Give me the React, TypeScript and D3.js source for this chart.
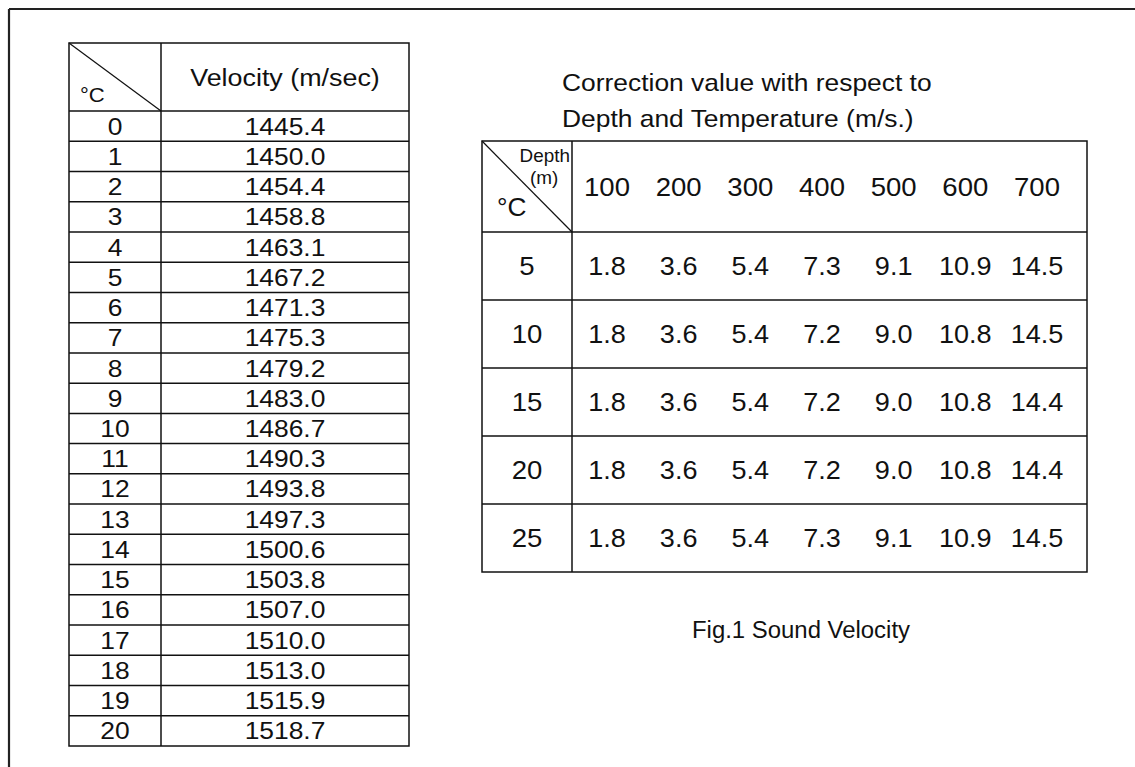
import React from "react";
import * as d3 from "d3";

const temps: number[] = [0, 1, 2, 3, 4, 5, 6, 7, 8, 9, 10, 11, 12, 13, 14, 15, 16, 17, 18, 19, 20];
const velocities: string[] = [
  "1445.4", "1450.0", "1454.4", "1458.8", "1463.1", "1467.2", "1471.3", "1475.3", "1479.2", "1483.0",
  "1486.7", "1490.3", "1493.8", "1497.3", "1500.6", "1503.8", "1507.0", "1510.0", "1513.0", "1515.9", "1518.7",
];
const depths: number[] = [100, 200, 300, 400, 500, 600, 700];
const corrTemps: number[] = [5, 10, 15, 20, 25];
const corr5: string[] = ["1.8", "3.6", "5.4", "7.3", "9.1", "10.9", "14.5"];
const corr10: string[] = ["1.8", "3.6", "5.4", "7.2", "9.0", "10.8", "14.5"];
const corr15: string[] = ["1.8", "3.6", "5.4", "7.2", "9.0", "10.8", "14.4"];
const corr20: string[] = ["1.8", "3.6", "5.4", "7.2", "9.0", "10.8", "14.4"];
const corr25: string[] = ["1.8", "3.6", "5.4", "7.3", "9.1", "10.9", "14.5"];
const corrRows: string[][] = [corr5, corr10, corr15, corr20, corr25];
const titleLines: string[] = ["Correction value with respect to", "Depth and Temperature (m/s.)"];
const caption = "Fig.1 Sound Velocity";

const FONT = "'Liberation Sans', Arial, Helvetica, sans-serif";
const INK = "#111";

function T(props: {
  x: number; y: number; size: number; sx?: number; anchor?: string; children: React.ReactNode;
}) {
  const { x, y, size, sx = 1.08, anchor = "middle", children } = props;
  return (
    <text
      transform={`translate(${x},${y}) scale(${sx},1)`}
      fontSize={size}
      fontFamily={FONT}
      textAnchor={anchor}
      fill={INK}
    >
      {children}
    </text>
  );
}

export default function App() {
  const W = 1135, H = 767;

  // Left table geometry
  const L = { x0: 69, x1: 161, x2: 409, top: 43, head: 111, bottom: 746 };
  const rowY = d3.scaleBand<number>().domain(temps).range([L.head, L.bottom]);
  const lfs = 24;

  // Right table geometry
  const R = { x0: 482, x1: 572, x2: 1087, top: 141, head: 232, bottom: 572 };
  const rRowY = d3.scaleBand<number>().domain(corrTemps).range([R.head, R.bottom]);
  const colX = d3.scalePoint<number>().domain(depths).range([607, 1037]);
  const rfs = 26;

  const sw = 1.5;

  return (
    <svg
      width={W}
      height={H}
      style={{ position: "absolute", left: 0, top: 0, background: "#fff" }}
    >
      <rect x={0} y={0} width={W} height={H} fill="#fff" />
      {/* outer frame */}
      <line x1={9} y1={9} x2={W} y2={9} stroke="#222" strokeWidth={2.2} />
      <line x1={9} y1={9} x2={9} y2={H} stroke="#222" strokeWidth={2.2} />

      {/* Left table */}
      <g stroke={INK} strokeWidth={sw} fill="none">
        <rect x={L.x0} y={L.top} width={L.x2 - L.x0} height={L.bottom - L.top} />
        <line x1={L.x1} y1={L.top} x2={L.x1} y2={L.bottom} />
        <line x1={L.x0} y1={L.top} x2={L.x1} y2={L.head} strokeWidth={1.2} />
        {temps.map((t) => (
          <line key={t} x1={L.x0} x2={L.x2} y1={rowY(t)!} y2={rowY(t)!} />
        ))}
      </g>
      <T x={80} y={102} size={21} anchor="start" sx={1.05}>°C</T>
      <T x={(L.x1 + L.x2) / 2} y={86} size={lfs} sx={1.12}>Velocity (m/sec)</T>
      {temps.map((t, i) => {
        const cy = rowY(t)! + rowY.bandwidth() / 2 + lfs * 0.355;
        return (
          <g key={t}>
            <T x={(L.x0 + L.x1) / 2} y={cy} size={lfs} sx={1.1}>{t}</T>
            <T x={(L.x1 + L.x2) / 2} y={cy} size={lfs} sx={1.1}>{velocities[i]}</T>
          </g>
        );
      })}

      {/* Title */}
      {titleLines.map((s, i) => (
        <T key={s} x={562} y={91 + i * 36} size={24} anchor="start" sx={1.1}>{s}</T>
      ))}

      {/* Right table */}
      <g stroke={INK} strokeWidth={sw} fill="none">
        <rect x={R.x0} y={R.top} width={R.x2 - R.x0} height={R.bottom - R.top} />
        <line x1={R.x1} y1={R.top} x2={R.x1} y2={R.bottom} />
        <line x1={R.x0} y1={R.top} x2={R.x1} y2={R.head} strokeWidth={1.2} />
        {corrTemps.map((t) => (
          <line key={t} x1={R.x0} x2={R.x2} y1={rRowY(t)!} y2={rRowY(t)!} />
        ))}
      </g>
      <T x={570} y={162} size={18} anchor="end" sx={1.05}>Depth</T>
      <T x={530} y={184} size={18} anchor="start" sx={1.05}>(m)</T>
      <T x={497} y={216} size={25} anchor="start" sx={1.05}>°C</T>
      {depths.map((d) => (
        <T key={d} x={colX(d)!} y={(R.top + R.head) / 2 + rfs * 0.355} size={rfs} sx={1.06}>{d}</T>
      ))}
      {corrTemps.map((t, i) => {
        const cy = rRowY(t)! + rRowY.bandwidth() / 2 + rfs * 0.355;
        return (
          <g key={t}>
            <T x={(R.x0 + R.x1) / 2} y={cy} size={rfs} sx={1.06}>{t}</T>
            {depths.map((d, j) => (
              <T key={d} x={colX(d)!} y={cy} size={rfs} sx={1.04}>{corrRows[i][j]}</T>
            ))}
          </g>
        );
      })}

      {/* Caption */}
      <T x={801} y={638} size={23} sx={1.04}>{caption}</T>
    </svg>
  );
}
